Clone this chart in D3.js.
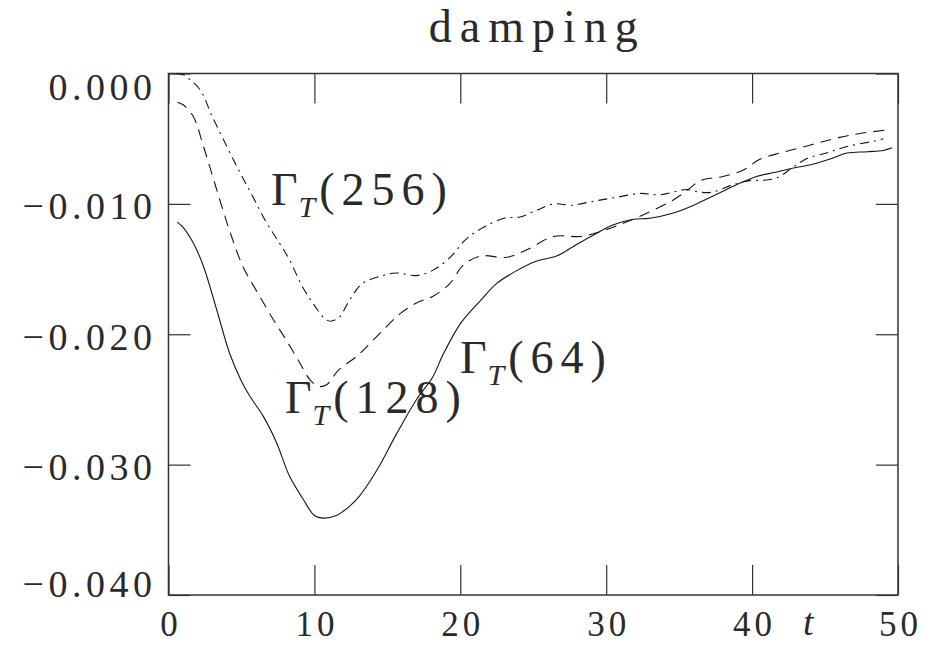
<!DOCTYPE html>
<html>
<head>
<meta charset="utf-8">
<script src="https://cdn.jsdelivr.net/npm/d3@7"></script>
<style>
  html, body { margin: 0; padding: 0; background: #fff; }
  svg { display: block; }
  text { font-family: "Liberation Serif", "DejaVu Serif", serif; fill: #2a2a2a; }
</style>
</head>
<body>
<svg id="chart" width="934" height="656"></svg>
<script>
// ---- data ----
const xTicks = [0, 10, 20, 30, 40, 50];
const yTicks = [0, -0.01, -0.02, -0.03, -0.04];
const xTickLabels = ["0", "10", "20", "30", "40", "50"];
const yTickLabels = ["0.000", "\u22120.010", "\u22120.020", "\u22120.030", "\u22120.040"];

const t64 = [0.6,1.0,1.7,2.4,3.3,4.2,5.0,5.6,6.5,7.4,8.3,9.2,10.0,10.6,11.5,12.4,13.1,14.3,15.6,17.0,18.1,18.8,20.0,21.4,22.5,23.9,25.2,26.6,27.7,29.1,30.5,31.8,33.0,34.6,36.0,37.5,39.0,40.3,41.5,42.6,44.0,45.5,46.5,47.9,49.0,49.6];
const g64 = [-0.0114,-0.0118,-0.0130,-0.0148,-0.0181,-0.0215,-0.0236,-0.0248,-0.0263,-0.0283,-0.0309,-0.0326,-0.0339,-0.0341,-0.0339,-0.0332,-0.0324,-0.0304,-0.0277,-0.0250,-0.0233,-0.0216,-0.0192,-0.0174,-0.0161,-0.0151,-0.0144,-0.0140,-0.0133,-0.0124,-0.0116,-0.0112,-0.0111,-0.0107,-0.0101,-0.0093,-0.0085,-0.0079,-0.0076,-0.0073,-0.0070,-0.0065,-0.0061,-0.0060,-0.0059,-0.0057];

const t128 = [0.6,1.0,1.7,2.4,3.3,4.2,5.1,6.1,7.2,8.1,9.0,9.7,10.3,10.8,11.7,12.9,13.8,14.7,15.9,17.0,18.1,19.3,20.2,21.4,23.2,24.6,26.4,28.2,29.4,30.9,32.8,34.6,35.5,36.5,38.0,39.4,40.5,41.9,43.3,44.6,46.0,47.4,49.5];
const g128 = [-0.0022,-0.0024,-0.0033,-0.0056,-0.0089,-0.0121,-0.0148,-0.0168,-0.0189,-0.0205,-0.0222,-0.0235,-0.0240,-0.0239,-0.0227,-0.0217,-0.0207,-0.0197,-0.0184,-0.0176,-0.0171,-0.0161,-0.0147,-0.0140,-0.0141,-0.0135,-0.0125,-0.0125,-0.0122,-0.0116,-0.0107,-0.0097,-0.0090,-0.0082,-0.0079,-0.0074,-0.0066,-0.0061,-0.0057,-0.0053,-0.0049,-0.0046,-0.0043];

const t256 = [0.5,1.0,1.5,2.2,3.0,4.0,4.9,5.8,6.7,7.6,8.3,9.2,10.2,10.7,11.1,11.7,12.4,13.3,14.7,15.6,17.0,18.1,19.3,20.4,21.6,23.0,24.1,25.2,26.4,27.7,29.1,30.7,32.3,33.7,35.5,36.4,37.3,38.5,39.9,40.7,41.7,42.8,43.8,45.1,46.5,48.3,49.0];
const g256 = [0.0000,-0.0001,-0.0005,-0.0013,-0.0033,-0.0056,-0.0076,-0.0095,-0.0114,-0.0130,-0.0143,-0.0164,-0.0181,-0.0188,-0.0190,-0.0187,-0.0174,-0.0161,-0.0155,-0.0153,-0.0155,-0.0151,-0.0141,-0.0127,-0.0118,-0.0111,-0.0110,-0.0105,-0.0100,-0.0101,-0.0098,-0.0095,-0.0092,-0.0093,-0.0089,-0.0091,-0.0091,-0.0086,-0.0082,-0.0082,-0.0080,-0.0072,-0.0065,-0.0061,-0.0056,-0.0052,-0.0050];

const seriesNames = ["64", "128", "256"];

// ---- layout ----
const svg = d3.select("#chart");
const L = 168.5, R = 898, T = 73.5, B = 595;
const x = d3.scaleLinear().domain([0, 50]).range([L, R]);
const y = d3.scaleLinear().domain([-0.04, 0]).range([B, T]);

svg.append("defs").append("clipPath").attr("id", "plotclip")
  .append("rect").attr("x", L).attr("y", T - 2).attr("width", R - L).attr("height", B - T + 2);

// ---- axes ----
const axisColor = "#333";
const gBottom = svg.append("g").attr("transform", `translate(0,${B})`)
  .call(d3.axisBottom(x).tickValues(xTicks).tickSizeInner(-30).tickSizeOuter(0)
    .tickFormat((d, i) => xTickLabels[i]));
const gTop = svg.append("g").attr("transform", `translate(0,${T})`)
  .call(d3.axisTop(x).tickValues(xTicks).tickSizeInner(-30).tickSizeOuter(0).tickFormat(""));
const gLeft = svg.append("g").attr("transform", `translate(${L},0)`)
  .call(d3.axisLeft(y).tickValues(yTicks).tickSizeInner(-22).tickSizeOuter(0)
    .tickFormat((d, i) => yTickLabels[i]));
const gRight = svg.append("g").attr("transform", `translate(${R},0)`)
  .call(d3.axisRight(y).tickValues(yTicks).tickSizeInner(-22).tickSizeOuter(0).tickFormat(""));

[gBottom, gTop, gLeft, gRight].forEach(g => {
  g.select(".domain").remove();
  g.selectAll(".tick line").attr("stroke", axisColor).attr("stroke-width", 1.2);
});

gBottom.selectAll(".tick text")
  .attr("y", 0).attr("dy", 41)
  .attr("dx", 2)
  .style("font-size", "35px")
  .style("letter-spacing", "4px")
  .attr("fill", "#2a2a2a");

gLeft.selectAll(".tick text")
  .attr("x", -12)
  .attr("dy", (d, i) => {
    if (i === 0) return 26;
    if (i === yTicks.length - 1) return 1;
    return 15;
  })
  .style("font-size", "38px")
  .style("letter-spacing", "4.5px")
  .attr("fill", "#2a2a2a");

// frame
svg.append("rect").attr("x", L).attr("y", T).attr("width", R - L).attr("height", B - T)
  .attr("fill", "none").attr("stroke", axisColor).attr("stroke-width", 1.5);

// ---- lines ----
const line = d3.line().x(d => x(d[0])).y(d => y(d[1])).curve(d3.curveCatmullRom.alpha(0.5));
const plot = svg.append("g").attr("clip-path", "url(#plotclip)");

const series = [
  { name: seriesNames[0], t: t64, v: g64, dash: null },
  { name: seriesNames[1], t: t128, v: g128, dash: "11,7" },
  { name: seriesNames[2], t: t256, v: g256, dash: "9,5,2,5" }
];
series.forEach(s => {
  plot.append("path")
    .datum(s.t.map((tt, i) => [tt, s.v[i]]))
    .attr("d", line)
    .attr("fill", "none")
    .attr("stroke", "#151515")
    .attr("stroke-width", 1.1)
    .attr("stroke-dasharray", s.dash);
});

// ---- labels ----
function gammaLabel(px, py, n) {
  const txt = svg.append("text").attr("x", px).attr("y", py).style("font-size", "46px");
  txt.append("tspan").text("\u0393");
  txt.append("tspan").attr("dy", 12).attr("dx", 1).style("font-size", "30px").style("font-style", "italic").text("T");
  txt.append("tspan").attr("dy", -12).attr("dx", 4).style("letter-spacing", "7px").text("(" + n + ")");
}
gammaLabel(271, 205, seriesNames[2]);
gammaLabel(285, 413, seriesNames[1]);
gammaLabel(460, 373, seriesNames[0]);

// title
svg.append("text").attr("x", (L + R) / 2 + 4).attr("y", 42)
  .attr("text-anchor", "middle")
  .style("font-size", "46px").style("letter-spacing", "8px")
  .text("damping");

// axis variable t
svg.append("text").attr("x", 803).attr("y", 635)
  .style("font-size", "38px").style("font-style", "italic")
  .text("t");
</script>
</body>
</html>
